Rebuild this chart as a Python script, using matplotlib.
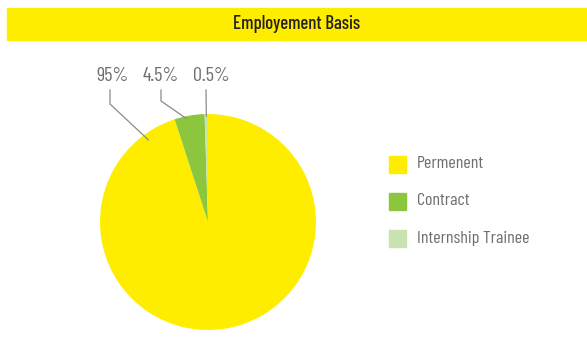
import numpy as np
import matplotlib.pyplot as plt
from matplotlib.patches import Rectangle

labels = ['Permenent', 'Contract', 'Internship Trainee']
values = [95, 4.5, 0.5]
pct_text = ['95%', '4.5%', '0.5%']
colors = ['#FFED00', '#8CC63F', '#C9E2B1']

plt.rcParams['font.family'] = ['Barlow Condensed', 'DejaVu Sans']
gray = '#6D6E71'

W, H = 587, 353
fig = plt.figure(figsize=(W / 100, H / 100), dpi=100)

# title bar
fig.patches.append(Rectangle((7 / W, 1 - 40 / H), 1 - 7 / W, 32 / H,
                             transform=fig.transFigure, color='#FFED00', zorder=0))
fig.text(297 / W, 1 - 24 / H, 'Employement Basis', ha='center', va='center',
         fontsize=13.5, color='#231F20', fontweight='medium')

# pie
cx, cy, r = 208, 222, 108
ax = fig.add_axes([(cx - r) / W, (H - cy - r) / H, 2 * r / W, 2 * r / H])
wedges, _ = ax.pie(values, colors=colors, startangle=90, counterclock=False,
                   radius=1, wedgeprops=dict(linewidth=0))
ax.set_xlim(-1, 1)
ax.set_ylim(-1, 1)
ax.set_aspect('auto')
ax.axis('off')

# leader lines + labels
label_x = [112, 161, 211]
line_x = [110, 161, 206]
elbow_y = [104, 101, 90]
anchor_r = [0.94, 0.98, 0.98]
anchor_off = [0, 2, 0]
for w, txt, lx, lnx, ey, ar, off in zip(wedges, pct_text, label_x, line_x,
                                         elbow_y, anchor_r, anchor_off):
    if w.theta2 - w.theta1 > 180:
        ang = np.deg2rad(126)
    else:
        ang = np.deg2rad((w.theta1 + w.theta2) / 2 + off)
    ax_x, ax_y = ar * np.cos(ang), ar * np.sin(ang)
    px = (lnx - cx) / r
    ax.plot([px, px, ax_x], [(cy - 90) / r, (cy - ey) / r, ax_y],
            color='#8A8A8A', lw=0.9, clip_on=False)
    ax.text((lx - cx) / r, (cy - 76) / r, txt, ha='center', va='center',
            fontsize=14.5, color=gray, clip_on=False)

# legend
for i, (lab, col) in enumerate(zip(labels, colors)):
    y = 165 + i * 37
    fig.patches.append(Rectangle((389 / W, 1 - (y + 8) / H), 17 / W, 17 / H,
                                 transform=fig.transFigure, color=col))
    fig.text(417 / W, 1 - (y - 1) / H, lab, ha='left', va='center', fontsize=13,
             color=gray)

fig.savefig('out.png', dpi=100)
